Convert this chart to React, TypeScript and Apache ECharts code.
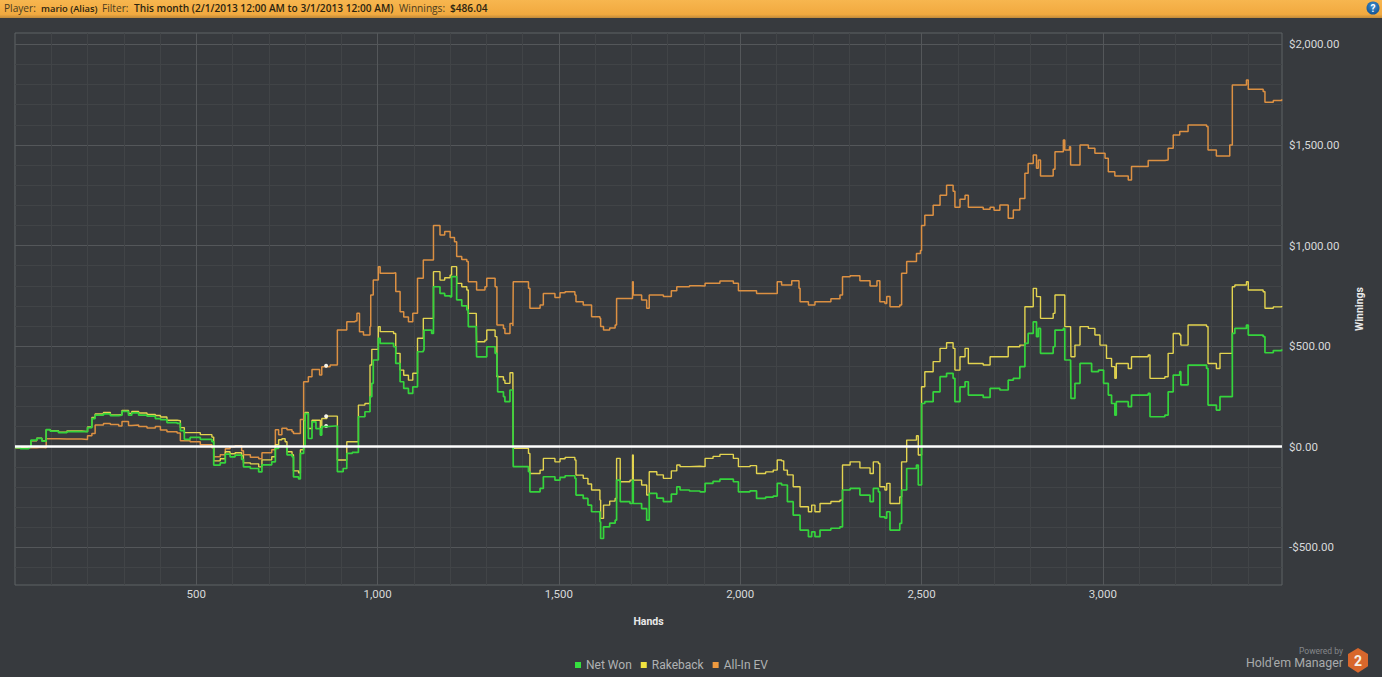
import React, { useEffect, useRef } from "react";
import * as echarts from "echarts";

const W = 1382;
const H = 677;

const xTicks = [500, 1000, 1500, 2000, 2500, 3000];
const xMinorTicks = [100, 200, 300, 400, 600, 700, 800, 900, 1100, 1200, 1300, 1400, 1600, 1700, 1800, 1900, 2100, 2200, 2300, 2400, 2600, 2700, 2800, 2900, 3100, 3200, 3300, 3400];
const yTicks = [-500, 0, 500, 1000, 1500, 2000];
const yMinorTicks = [-600, -400, -300, -200, -100, 100, 200, 300, 400, 600, 700, 800, 900, 1100, 1200, 1300, 1400, 1600, 1700, 1800, 1900];

const netWon: number[][] = [
  [1,-5],[15,-10],[38,-3],[44,33],[60,42],[74,28],[86,85],[97,78],[120,70],[143,75],[184,75],[200,95],[212,140],[221,157],[244,163],[263,155],[286,157],[295,176],[313,157],[322,168],[341,157],[364,152],[387,140],[401,135],[419,120],[447,116],[456,80],[467,37],[483,47],[511,37],[543,25],[548,-91],[566,-80],[580,-37],[593,-50],[607,-42],[625,-63],[630,-100],[649,-108],[672,-125],[681,-90],[708,-75],[718,-8],[727,3],[745,0],[750,-40],[764,-50],[768,-150],[782,-160],[787,-33],[796,0],[800,165],[809,41],[819,124],[830,90],[842,58],[846,100],[860,103],[883,103],[889,-124],[905,-108],[915,-33],[930,-28],[947,149],[965,174],[979,249],[984,315],[988,431],[1002,539],[1007,514],[1044,497],[1050,414],[1062,323],[1072,290],[1085,265],[1097,298],[1108,298],[1110,472],[1126,480],[1128,580],[1149,563],[1154,795],[1172,762],[1185,750],[1200,745],[1204,845],[1218,730],[1232,700],[1246,680],[1250,597],[1272,572],[1273,447],[1296,447],[1301,497],[1324,464],[1329,356],[1331,273],[1347,249],[1351,224],[1365,282],[1373,273],[1374,-99],[1416,-124],[1420,-224],[1448,-207],[1457,-149],[1489,-166],[1503,-152],[1517,-144],[1544,-157],[1547,-240],[1567,-257],[1580,-290],[1590,-323],[1613,-373],[1615,-456],[1623,-398],[1640,-380],[1655,-365],[1659,-166],[1667,-166],[1669,-273],[1696,-282],[1703,-166],[1705,-282],[1728,-307],[1742,-365],[1749,-232],[1770,-255],[1788,-273],[1810,-235],[1825,-199],[1834,-215],[1860,-220],[1889,-224],[1903,-182],[1925,-172],[1944,-161],[1981,-174],[1995,-224],[2027,-219],[2045,-257],[2070,-250],[2091,-245],[2102,-182],[2114,-190],[2130,-273],[2146,-340],[2165,-414],[2188,-447],[2197,-423],[2206,-447],[2220,-414],[2250,-405],[2275,-398],[2282,-215],[2303,-207],[2330,-240],[2358,-273],[2367,-207],[2381,-224],[2385,-348],[2399,-355],[2404,-323],[2413,-414],[2440,-381],[2445,-215],[2459,-108],[2486,-91],[2491,-190],[2497,-190],[2500,215],[2509,224],[2532,273],[2551,348],[2569,365],[2587,340],[2592,224],[2606,298],[2620,323],[2629,257],[2670,245],[2689,290],[2716,282],[2739,331],[2753,340],[2771,398],[2785,514],[2794,563],[2808,621],[2817,547],[2822,588],[2828,464],[2863,497],[2868,580],[2891,588],[2895,431],[2911,431],[2912,240],[2923,315],[2937,414],[2960,414],[2969,373],[2988,381],[3002,315],[3015,257],[3024,215],[3033,157],[3037,224],[3070,199],[3079,257],[3125,265],[3130,149],[3171,157],[3180,273],[3194,356],[3212,373],[3215,307],[3235,406],[3286,389],[3290,207],[3313,182],[3323,249],[3350,249],[3357,563],[3364,588],[3396,605],[3401,555],[3442,547],[3447,467],[3470,478],[3493,484]
];

const rakeback: number[][] = [
  [1,-5],[15,-8],[38,-3],[44,30],[60,42],[74,30],[86,85],[97,80],[120,72],[143,78],[184,75],[200,98],[212,145],[221,163],[244,170],[263,158],[286,160],[295,180],[313,165],[322,175],[341,168],[364,160],[387,155],[401,148],[419,132],[447,130],[456,95],[467,70],[483,70],[511,60],[543,48],[548,-70],[566,-60],[580,-25],[593,-35],[607,-30],[625,-45],[630,-80],[649,-85],[672,-100],[681,-65],[708,-50],[718,10],[727,35],[736,40],[745,25],[750,-25],[764,-40],[768,-120],[782,-130],[787,-15],[796,130],[800,170],[809,91],[819,132],[842,91],[846,140],[860,152],[883,152],[889,-66],[915,25],[947,207],[965,215],[979,406],[984,484],[1002,597],[1007,572],[1044,563],[1050,464],[1062,381],[1072,355],[1085,331],[1097,365],[1108,365],[1110,539],[1126,638],[1149,638],[1154,870],[1172,828],[1185,840],[1200,853],[1204,895],[1218,812],[1232,795],[1246,779],[1250,663],[1272,655],[1273,522],[1296,530],[1301,580],[1324,547],[1329,348],[1347,331],[1351,315],[1365,368],[1373,356],[1374,-8],[1416,-33],[1420,-133],[1448,-116],[1457,-58],[1489,-75],[1503,-60],[1517,-53],[1544,-66],[1547,-141],[1567,-157],[1580,-185],[1590,-215],[1613,-265],[1615,-356],[1623,-290],[1640,-270],[1655,-257],[1659,-58],[1667,-58],[1669,-174],[1696,-166],[1703,-41],[1705,-166],[1728,-190],[1742,-240],[1749,-124],[1770,-140],[1788,-157],[1810,-120],[1825,-91],[1834,-99],[1860,-97],[1889,-99],[1903,-58],[1925,-48],[1944,-38],[1981,-58],[1995,-99],[2027,-94],[2045,-133],[2070,-125],[2091,-116],[2102,-66],[2114,-70],[2120,-116],[2130,-140],[2146,-199],[2165,-298],[2188,-323],[2197,-290],[2206,-323],[2220,-282],[2250,-272],[2275,-265],[2282,-91],[2303,-75],[2330,-105],[2358,-133],[2367,-75],[2381,-83],[2385,-199],[2399,-215],[2404,-182],[2413,-282],[2440,-249],[2445,-75],[2459,33],[2486,55],[2491,-41],[2497,-41],[2500,298],[2509,373],[2532,423],[2551,489],[2569,517],[2587,489],[2592,381],[2606,447],[2620,489],[2629,414],[2670,406],[2689,447],[2716,447],[2739,497],[2771,505],[2785,696],[2808,787],[2817,746],[2828,638],[2863,663],[2868,754],[2891,754],[2895,597],[2911,597],[2912,447],[2923,505],[2937,597],[2960,588],[2978,555],[2992,505],[3010,439],[3024,398],[3033,340],[3037,414],[3070,389],[3079,447],[3125,456],[3130,340],[3171,348],[3180,464],[3194,563],[3212,555],[3215,505],[3235,605],[3286,597],[3290,414],[3313,389],[3323,464],[3350,464],[3357,795],[3364,804],[3396,820],[3401,779],[3442,770],[3447,688],[3470,695],[3493,699]
];

const allInEV: number[][] = [
  [1,-5],[60,-3],[74,-5],[86,40],[120,38],[143,38],[184,36],[200,55],[212,66],[221,108],[244,116],[263,110],[286,103],[295,125],[313,105],[322,108],[341,100],[364,93],[387,100],[401,83],[419,75],[447,68],[456,30],[483,25],[511,10],[543,-5],[548,-50],[566,-40],[580,-10],[593,0],[607,5],[625,-20],[630,-40],[649,-52],[672,-60],[681,-30],[708,-15],[718,85],[727,60],[736,92],[750,85],[764,75],[768,66],[787,136],[796,323],[809,348],[819,384],[840,356],[846,398],[869,406],[889,580],[915,621],[938,625],[943,663],[950,572],[961,555],[979,597],[981,754],[988,829],[1002,895],[1007,862],[1044,865],[1050,771],[1062,671],[1072,645],[1085,621],[1097,663],[1108,663],[1110,837],[1126,928],[1149,928],[1154,1099],[1172,1052],[1185,1069],[1200,1040],[1212,1019],[1218,945],[1232,930],[1246,920],[1250,820],[1273,779],[1296,795],[1301,837],[1324,795],[1329,605],[1347,588],[1351,563],[1365,613],[1373,600],[1374,820],[1416,787],[1420,688],[1448,704],[1457,762],[1489,742],[1503,765],[1517,770],[1544,754],[1547,721],[1567,704],[1590,646],[1613,638],[1615,597],[1623,580],[1640,590],[1655,605],[1659,737],[1696,737],[1703,820],[1705,754],[1728,729],[1742,688],[1749,754],[1788,746],[1810,775],[1825,795],[1860,800],[1889,799],[1903,812],[1944,824],[1981,812],[1995,775],[2027,775],[2045,762],[2091,762],[2102,820],[2114,804],[2130,804],[2142,825],[2162,787],[2165,721],[2188,704],[2206,721],[2220,721],[2250,735],[2275,754],[2282,845],[2303,850],[2330,825],[2358,799],[2377,825],[2385,721],[2399,712],[2404,746],[2413,696],[2440,704],[2445,862],[2459,920],[2486,960],[2497,975],[2500,1100],[2509,1150],[2532,1200],[2551,1250],[2569,1300],[2587,1270],[2592,1190],[2606,1230],[2620,1250],[2629,1190],[2670,1180],[2689,1190],[2700,1175],[2716,1201],[2739,1135],[2753,1176],[2771,1234],[2785,1359],[2794,1408],[2808,1450],[2817,1384],[2822,1425],[2828,1346],[2863,1379],[2868,1466],[2891,1524],[2895,1475],[2908,1491],[2911,1400],[2923,1400],[2937,1500],[2960,1483],[2978,1458],[3006,1433],[3015,1367],[3033,1346],[3070,1326],[3079,1392],[3125,1422],[3171,1425],[3180,1483],[3194,1549],[3212,1566],[3235,1599],[3286,1591],[3290,1475],[3313,1445],[3350,1500],[3357,1798],[3396,1823],[3401,1776],[3442,1765],[3447,1712],[3470,1720],[3493,1727]
];

const netWonDots = [[858, 103]];
const rakebackDots = [[858, 152]];
const allInDots = [[858, 403]];

const C_BG = "#373a3e";
const C_GREEN = "#35d43c";
const C_YELLOW = "#e3d44f";
const C_ORANGE = "#dc9042";
const C_MAJOR = "#54575a";
const C_MINOR = "#414447";

const HEX = "M11 0 L21 5.5 L21 17 L11 23 L1 17 L1 5.5 Z";
echarts.graphic.registerShape("hmHex", echarts.graphic.extendPath(HEX, {}) as any);

function money(v: number) {
  const a = Math.abs(v).toLocaleString("en-US", { minimumFractionDigits: 2, maximumFractionDigits: 2 });
  return (v < 0 ? "-$" : "$") + a;
}

function dots(list: number[][]) {
  return {
    silent: true,
    symbol: "circle",
    symbolSize: 4,
    label: { show: false },
    itemStyle: { color: "#f4f4ea" },
    data: list.map((p) => ({ coord: p })),
  };
}

function headerText(x: number, text: string, bold: boolean, size = 10.15) {
  return {
    type: "text",
    x,
    y: 8,
    silent: true,
    style: {
      text,
      fill: bold ? "#2b2410" : "#4a3c20",
      font: `${bold ? 600 : 400} ${size}px "Open Sans"`,
      textVerticalAlign: "middle",
    },
  };
}

export default function App() {
  const ref = useRef<HTMLDivElement>(null);
  useEffect(() => {
    document.body.style.margin = "0";
    document.body.style.background = C_BG;
    const chart = echarts.init(ref.current!, undefined, { renderer: "svg" });
    const lineBase = { type: "line", step: "end", showSymbol: false, symbol: "none", animation: false, xAxisIndex: 0, yAxisIndex: 0 };
    chart.setOption({
      animation: false,
      backgroundColor: C_BG,
      textStyle: { fontFamily: "Roboto" },
      grid: { left: 15, top: 33, right: W - 1282, bottom: H - 585, show: true, borderColor: "#5f6265", borderWidth: 1, backgroundColor: "transparent" },
      legend: {
        top: 654,
        left: 570,
        padding: 5,
        itemWidth: 6,
        itemHeight: 6,
        itemGap: 9,
        icon: "rect",
        textStyle: { color: "#b0b2b3", fontFamily: "Roboto", fontSize: 12, padding: [1, 0, 0, 0] },
        data: ["Net Won", "Rakeback", "All-In EV"],
      },
      xAxis: [
        {
          type: "value", min: 0, max: 3494, name: "Hands", nameLocation: "middle", nameGap: 31,
          nameTextStyle: { color: "#e8e8e8", fontWeight: "bold", fontSize: 10.5, fontFamily: "Roboto" },
          axisLine: { show: false },
          axisTick: { show: true, customValues: xTicks, length: 6, lineStyle: { color: C_MAJOR } },
          axisLabel: { customValues: xTicks, color: "#d8d9da", fontSize: 11.5, margin: 3, formatter: (v: number) => v.toLocaleString("en-US") },
          splitLine: { show: true, lineStyle: { color: C_MAJOR, width: 1 } },
        },
        {
          type: "value", min: 0, max: 3494, position: "bottom",
          axisLine: { show: false },
          axisTick: { show: true, customValues: xMinorTicks, length: 4, lineStyle: { color: C_MINOR } },
          axisLabel: { show: false },
          splitLine: { show: true, lineStyle: { color: C_MINOR, width: 1 } },
        },
      ],
      yAxis: [
        {
          type: "value", min: -687, max: 2056, position: "right", name: "Winnings", nameLocation: "middle", nameGap: 72, nameRotate: 90,
          nameTextStyle: { color: "#e8e8e8", fontWeight: "bold", fontSize: 10.5, fontFamily: "Roboto" },
          axisLine: { show: false },
          axisTick: { show: true, customValues: yTicks, length: 6, lineStyle: { color: C_MAJOR } },
          axisLabel: { customValues: yTicks, color: "#d8d9da", fontSize: 11.5, margin: 7, padding: [0, 0, 4, 0], formatter: money },
          splitLine: { show: true, lineStyle: { color: C_MAJOR, width: 1 } },
        },
        {
          type: "value", min: -687, max: 2056, position: "right",
          axisLine: { show: false },
          axisTick: { show: true, customValues: yMinorTicks, length: 4, lineStyle: { color: C_MINOR } },
          axisLabel: { show: false },
          splitLine: { show: true, lineStyle: { color: C_MINOR, width: 1 } },
        },
      ],
      series: [
        {
          ...lineBase, name: "All-In EV", data: allInEV, z: 3,
          lineStyle: { color: C_ORANGE, width: 1.5 }, itemStyle: { color: "#ef9a3f" }, markPoint: dots(allInDots),
        },
        {
          ...lineBase, name: "Rakeback", data: rakeback, z: 4,
          lineStyle: { color: C_YELLOW, width: 1.4 }, itemStyle: { color: "#f0e23f" }, markPoint: dots(rakebackDots),
        },
        {
          ...lineBase, name: "Net Won", data: netWon, z: 5,
          lineStyle: { color: C_GREEN, width: 1.7 }, itemStyle: { color: "#35e03f" }, markPoint: dots(netWonDots),
          markLine: {
            silent: true, symbol: "none", label: { show: false }, z: 6,
            lineStyle: { color: "#ffffff", width: 2.5, type: "solid" },
            data: [{ yAxis: 0 }],
          },
        },
      ],
      graphic: [
        {
          type: "rect", silent: true, shape: { x: 0, y: 0, width: W, height: 18 },
          style: { fill: new echarts.graphic.LinearGradient(0, 0, 0, 1, [{ offset: 0, color: "#f7b64f" }, { offset: 0.8, color: "#f1a93f" }, { offset: 1, color: "#c08a3a" }]) },
        },
        headerText(4, "Player:", false),
        headerText(41, "mario (Alias)", true, 9.4),
        headerText(102, "Filter:", false),
        headerText(134, "This month (2/1/2013 12:00 AM to 3/1/2013 12:00 AM)", true),
        headerText(399, "Winnings:", false),
        headerText(450, "$486.04", true),
        {
          type: "circle", silent: true, shape: { cx: 1373, cy: 8, r: 6.5 },
          style: { fill: new echarts.graphic.RadialGradient(0.5, 0.35, 0.7, [{ offset: 0, color: "#3f8fd0" }, { offset: 1, color: "#0f4f8f" }]) },
        },
        { type: "text", x: 1373, y: 8, silent: true, style: { text: "?", fill: "#ffffff", font: 'bold 10px "Roboto"', textAlign: "center", textVerticalAlign: "middle" } },
        { type: "text", x: 1343, y: 651, silent: true, style: { text: "Powered by", fill: "#85878a", font: '8.5px "Roboto"', textAlign: "right", textVerticalAlign: "middle" } },
        { type: "text", x: 1343, y: 662, silent: true, style: { text: "Hold'em Manager", fill: "#a8aaab", font: '12.4px "Roboto"', textAlign: "right", textVerticalAlign: "middle" } },
        { type: "hmHex", silent: true, x: 1347, y: 648, scaleY: 1.08, style: { fill: "#d8672c" } },
        { type: "text", x: 1358, y: 661, silent: true, style: { text: "2", fill: "#f5f0e8", font: 'bold 14px "Roboto"', textAlign: "center", textVerticalAlign: "middle" } },
      ],
    } as any);
    return () => chart.dispose();
  }, []);
  return <div ref={ref} style={{ width: W, height: H }} />;
}
